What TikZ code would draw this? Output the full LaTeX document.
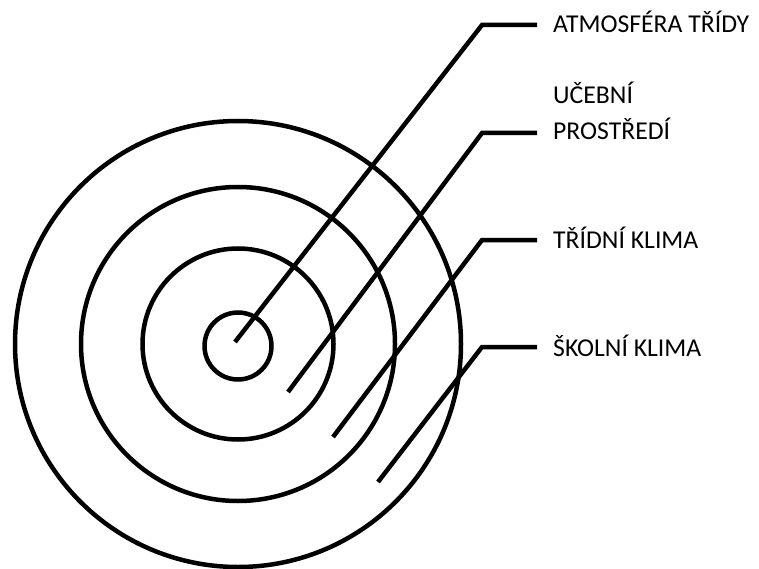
\documentclass[tikz,border=0pt]{standalone}
\usepackage{fontspec}
\setmainfont{Carlito}
\begin{document}
\begin{tikzpicture}[x=1pt,y=-1pt,
  ring/.style={draw=black,line width=4.5pt,circle,inner sep=0pt},
  lead/.style={draw=black,line width=4.5pt},
  lab/.style={anchor=base west,inner sep=0pt,font=\fontsize{25.7}{36}\selectfont,align=left,text=black}]
\useasboundingbox (0,0) rectangle (759,569);
\coordinate (c) at (238,344);
\node[ring,minimum size=67pt] (r1) at (238,346) {};
\node[ring,minimum size=191pt] (r2) at (c) {};
\node[ring,minimum size=314pt] (r3) at (c) {};
\node[ring,minimum size=446pt] (r4) at (c) {};
% leader end points
\coordinate (e1) at (235,342);
\coordinate (b1) at (482,25);
\coordinate (h1) at (537,25);
\coordinate (e2) at (288,392);
\coordinate (b2) at (482,133);
\coordinate (h2) at (537,133);
\coordinate (e3) at (333,437);
\coordinate (b3) at (482,240);
\coordinate (h3) at (537,240);
\coordinate (e4) at (378,482);
\coordinate (b4) at (482,347);
\coordinate (h4) at (537,347);
\draw[lead] (e1) -- (b1) -- (h1);
\draw[lead] (e2) -- (b2) -- (h2);
\draw[lead] (e3) -- (b3) -- (h3);
\draw[lead] (e4) -- (b4) -- (h4);
\node[lab] (t1) at (553,33) {ATMOSFÉRA TŘÍDY};
\node[lab] (t2) at (553,140) {UČEBNÍ\\PROSTŘEDÍ};
\node[lab] (t3) at (553,248) {TŘÍDNÍ KLIMA};
\node[lab] (t4) at (553,356) {ŠKOLNÍ KLIMA};
\end{tikzpicture}
\end{document}
